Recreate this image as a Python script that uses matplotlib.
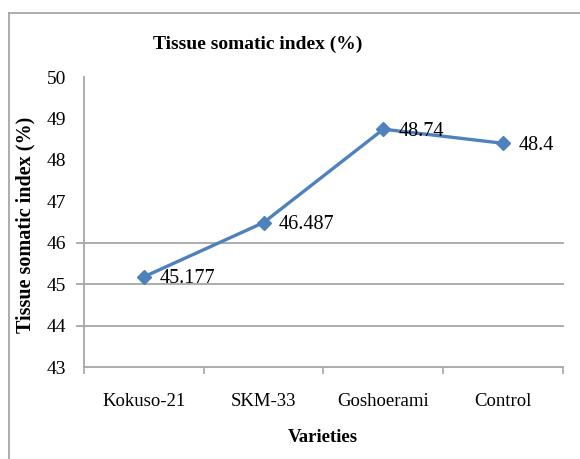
import matplotlib
matplotlib.use('Agg')
import matplotlib.pyplot as plt
from matplotlib.lines import Line2D

varieties = ['Kokuso-21', 'SKM-33', 'Goshoerami', 'Control']
tsi = [45.177, 46.487, 48.74, 48.4]
y_ticks = [43, 44, 45, 46, 47, 48, 49, 50]
grid_vals = [44, 45, 46]

plt.rcParams['font.family'] = ['Liberation Serif', 'DejaVu Serif']

fig = plt.figure(figsize=(5.8, 4.59), dpi=100)
ax = fig.add_axes([0.1448, 0.2004, 0.8259, 0.6318])

x = list(range(len(varieties)))
ax.plot(x, tsi, color='#4F81BD', linewidth=2.4, marker='D', markersize=7.5)
for xi, v in zip(x, tsi):
    ax.annotate(str(v), (xi, v), xytext=(11, -1.5), textcoords='offset points',
                ha='left', va='center', fontsize=14.5)

for g in grid_vals:
    ax.axhline(g, xmin=-0.014, xmax=1, color='#A6A6A6', linewidth=1.3,
               clip_on=False, zorder=0)

ax.set_xlim(-0.5, 3.5)
ax.set_ylim(43, 50)
ax.set_yticks(y_ticks)
ax.set_xticks(x)
ax.set_xticklabels(varieties)
ax.set_xticks([-0.5, 0.5, 1.5, 2.5, 3.5], minor=True)
ax.tick_params(axis='x', which='major', length=0, pad=19, labelsize=13.5)
ax.tick_params(axis='x', which='minor', length=5, color='#A6A6A6', width=1.2)
ax.tick_params(axis='y', length=0, pad=13, labelsize=14)

for s in ['top', 'right']:
    ax.spines[s].set_visible(False)
for s in ['left', 'bottom']:
    ax.spines[s].set_color('#A6A6A6')
    ax.spines[s].set_linewidth(1.3)

fig.text(258 / 580, 1 - 44 / 459, 'Tissue somatic index (%)', ha='center',
         va='center', fontsize=14, fontweight='bold')
fig.text(323 / 580, 1 - 437 / 459, 'Varieties', ha='center', va='center',
         fontsize=13.5, fontweight='bold')
fig.text(25 / 580, 1 - 225 / 459, 'Tissue somatic index (%)', ha='center',
         va='center', rotation=90, fontsize=14.5, fontweight='bold')

# outer frame (only left and top edges are visible in the crop)
fx, fy = 9 / 580, 1 - 13 / 459
fig.add_artist(Line2D([fx, fx], [0, fy], color='#A6A6A6', linewidth=1.3))
fig.add_artist(Line2D([fx, 1], [fy, fy], color='#A6A6A6', linewidth=1.3))

fig.savefig('out.png', dpi=100)
